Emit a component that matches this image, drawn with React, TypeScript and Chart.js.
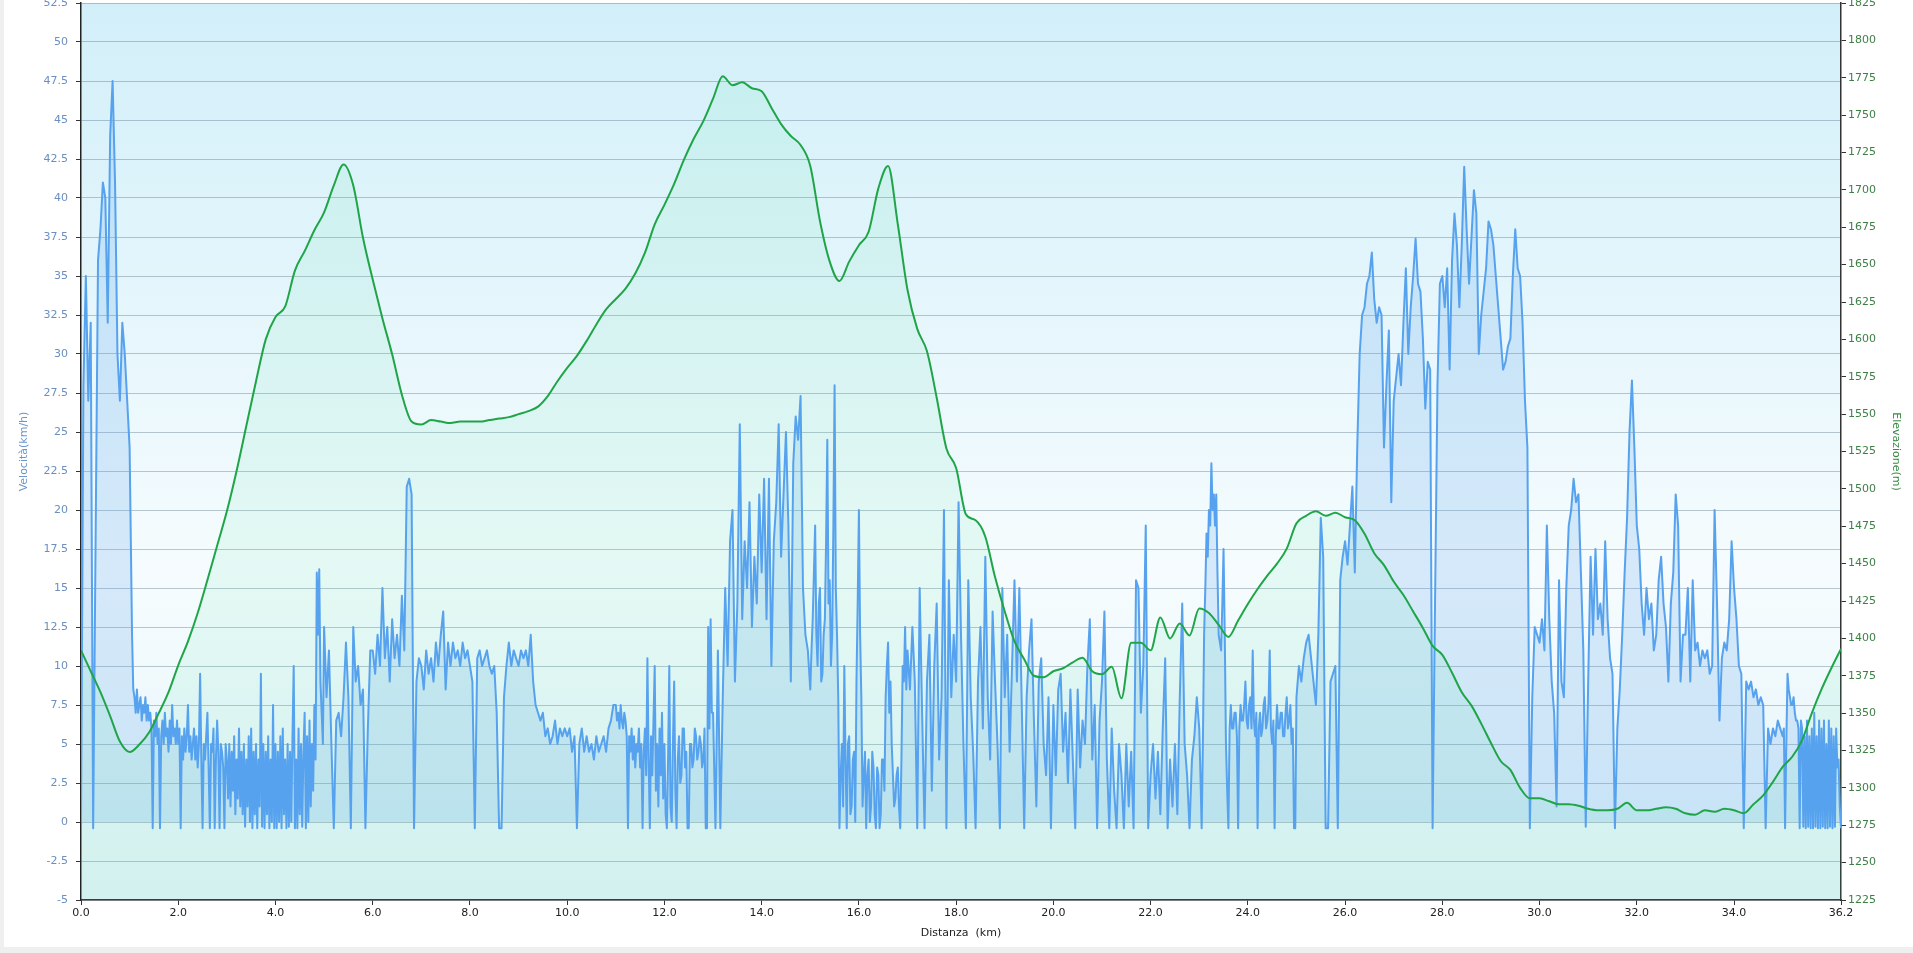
import { useEffect, useRef } from 'react';
import { Chart, registerables } from 'chart.js';

Chart.register(...registerables);

const FONT = 'DejaVu Sans, Verdana, sans-serif';

// Velocità (km/h). Tratti a 50 m (20 valori/km) e tratti più fitti a 25 m (40 valori/km)
const speed0to1 = [
  0, 28, 35, 27, 32, -0.4, 18, 36, 38, 41, 40, 32, 44, 47.5, 41, 30, 27, 32, 30, 27,
];

const speed1to3 = [
  24, 18, 12, 8.5, 8, 7, 8.5, 7, 7.5, 8, 6.5, 7.5, 7, 8, 6.5, 7.5, 6.5, 7, 6, -0.4,
  6.5, 5.5, 7, 5, 6, -0.4, 5.5, 6.5, 5, 7, 5.5, 6, 4.5, 6.5, 5, 7.5, 5.5, 6, 5, 6.5,
  5, 6, -0.4, 5.5, 4, 6, 4.5, 5.5, 7.5, 4.5, 5.5, 4, 5, 6, 4, 5.5, 3.5, 5, 9.5, 4,
  -0.4, 5, 4, 5.5, 7, 3.5, -0.4, 5, 4.5, 6, -0.4, 4, 6.5, 4.5, -0.4, 5, 4.5, 3.5, -0.4, 5,
];

const speed3to5 = [
  4, 1.5, 5, 1, 4.5, 2, 5.5, 0.5, 4, 1.5, 6, 1, 4.5, 0.5, 5, -0.3, 4, 1, 5.5, 0,
  6, -0.4, 4.5, 0.5, 5, -0.4, 4, 1, 9.5, -0.3, 5, -0.4, 4.5, 0.5, 5.5, -0.4, 4, 0, 7.5, -0.4,
  5, -0.4, 4.5, 0, 5.5, -0.4, 6, 0.5, 4, -0.4, 5, -0.3, 4.5, 0, 5.5, 10, -0.4, 4, -0.4, 6,
  0.5, 5, -0.3, 4.5, 7, -0.4, 5.5, 0, 6.5, 1, 5, 2, 7.5, 4, 16, 12, 16.2, 9, 7, 5,
];

const speed5to11 = [
  12.5, 8, 11, 5, -0.4, 6.5, 7, 5.5, 8, 11.5, 8, -0.4, 12.5, 9, 10, 7.5, 8.5, -0.4, 6, 11,
  11, 9.5, 12, 10, 15, 10.5, 12.5, 9, 13, 10.5, 12, 10, 14.5, 11, 21.5, 22, 21, -0.4, 9, 10.5,
  10, 8.5, 11, 9.5, 10.5, 9, 11.5, 10, 12, 13.5, 8.5, 11.5, 10, 11.5, 10.5, 11, 10, 11.5, 10.5, 11,
  10, 9, -0.4, 10.5, 11, 10, 10.5, 11, 10, 9.5, 10, 7, -0.4, -0.4, 8, 10, 11.5, 10, 11, 10.5,
  10, 11, 10.5, 11, 10, 12, 9, 7.5, 7, 6.5, 7, 5.5, 6, 5, 5.5, 6.5, 5, 6, 5.5, 6,
  5.5, 6, 4.5, 5.5, -0.4, 5, 6, 4.5, 5.5, 4.5, 5, 4, 5.5, 4.5, 5, 5.5, 4.5, 6, 6.5, 7.5,
];

const speed11to13 = [
  7.5, 6.5, 7, 6, 7.5, 6.5, 6, 7, 6.5, 5.5, -0.4, 5.5, 4.5, 6, 4, 5.5, 3.5, 5, 4.5, 6,
  3.5, 5, -0.4, 4.5, 6, 3, 10.5, 4, -0.4, 5.5, 3, 6.5, 10, 2, 5, 1, 6, 3, 7, 1.5,
  5, 0.5, -0.4, 4, 10, 1, 0, 5, 9, 2, -0.4, 4, 5.5, 2.5, 3, 6, 6, 3.5, 4.5, -0.4,
  -0.4, 5, 5, 3.5, 4, 6, 5.5, 4, 4.5, 5.5, 5, 3.5, 4, 6, -0.4, -0.4, 12.5, 6, 13, 7,
];

const speed13to15 = [
  7, -0.4, 11, -0.4, 8, 15, 10, 18, 20, 9, 14, 25.5, 13, 18, 15, 20.5, 12.5, 17, 14, 21,
  16, 22, 13, 22, 10, 18, 20.5, 25.5, 17, 21, 25, 19, 9, 23, 26, 24.5, 27.3, 15, 12, 11,
];

const speed15to17 = [
  8.5, 11, 13, 16, 19, 12, 10, 14, 15, 9, 9.5, 12, 13, 18, 24.5, 14, 15.5, 10, 12, 19,
  28, 15, 12, 8, -0.4, 3, 5, 1, 10, 4, -0.4, 5, 5.5, 0.5, 1, 4, 4.5, 0, 9, 14,
  20, 12, 8, 1, 3, 4.5, -0.4, 3, 4, 0, 1, 4.5, 3.5, 0.5, -0.4, 3.5, 3, -0.4, 0.5, 4,
  4, 2, 8, 10, 11.5, 7, 9, 5, 3, 1, 1.5, 3, 3.5, 1, -0.4, 4, 10, 9, 12.5, 8.5,
];

const speed17to23 = [
  11, 8.5, 12.5, 9, -0.4, 15, 7, -0.4, 9, 12, 2, 10, 14, 4, 8, 20, -0.4, 15.5, 8, 12,
  9, 20.5, 12, 5, -0.4, 15.5, 8, 4.5, -0.4, 9, 12.5, 6, 17, 8, 4, 13.5, 9, 5, -0.4, 15,
  8, 12, 4.5, 10, 15.5, 9, 15, 7.5, -0.4, 8, 11, 13, 6.5, 1, 9, 10.5, 5, 3, 8, -0.4,
  7.5, 3, 8.5, 9.5, 4.5, 7, 2.5, 8.5, 4, -0.4, 8.5, 3.5, 6.5, 5, 10, 13, 4, 7.5, -0.4, 6.5,
  9, 13.5, 4, -0.4, 6, 2, -0.4, 5, 3, -0.4, 5, 1, 4.5, -0.4, 15.5, 15, 7, 10, 19, -0.4,
  3, 5, 1.5, 4.5, 0.5, 6, 10.5, -0.4, 4, 1, 5, 0.5, 8, 14, 5, 3, -0.4, 4, 5.5, 8,
];

const speed23to25 = [
  6, 3, -0.4, 5, 12, 15, 18.5, 17, 20, 19, 23, 20, 21, 19, 21, 16, 12, 11.5, 11, 14,
  17.5, 12, 5, 2, -0.4, 6, 7.5, 6, 6, 7, 7, 5.5, -0.4, 6, 7.5, 6.5, 6.5, 7.5, 9, 6.5,
  6, 7.5, 8, 6, 11, 6.5, 5.5, 7, -0.4, 6, 7, 5.5, 6, 7.5, 8, 6, 6.5, 7.5, 11, 6,
  5, 6.5, -0.4, 5.5, 7.5, 6, 6, 7, 7, 5.5, 5.5, 7, 8, 6, 6.5, 7.5, 5, 6, -0.4, -0.4,
];

const speed25to35 = [
  8, 10, 9, 10.5, 11.5, 12, 10.5, 9, 7.5, 12, 19.5, 17, -0.4, -0.4, 9, 9.5, 10, -0.4, 15.5, 17,
  18, 16.5, 19, 21.5, 16, 24, 30, 32.5, 33, 34.5, 35, 36.5, 33.5, 32, 33, 32.5, 24, 28, 31.5, 20.5,
  27, 28.5, 30, 28, 32, 35.5, 30, 33, 35, 37.4, 34.5, 34, 31, 26.5, 29.5, 29, -0.4, 14, 28, 34.5,
  35, 33, 35.5, 29, 36, 39, 37, 33, 37, 42, 38, 34.5, 37.5, 40.5, 39, 30, 32.5, 34, 35.5, 38.5,
  38, 37, 35, 33, 31, 29, 29.5, 30.5, 31, 35, 38, 35.5, 35, 32, 27, 24, -0.4, 8, 12.5, 12,
  11.5, 13, 11, 19, 13, 9, 7, 1, 15.5, 9, 8, 15, 19, 20, 22, 20.5, 21, 16, 11, -0.3,
  9, 17, 12, 17.5, 13, 14, 12, 18, 13, 10.5, 9.5, -0.4, 6, 8.5, 12, 16, 19.5, 25, 28.3, 24,
  19, 17.5, 14, 12, 15, 13, 14, 11, 12, 15.5, 17, 14, 12.5, 9, 14, 16, 21, 19, 9, 12,
  12, 15, 9, 15.5, 11, 11.5, 10, 11, 10.5, 11, 9.5, 10, 20, 14, 6.5, 10.5, 11.5, 11, 13, 18,
  15, 13, 10, 9.5, -0.4, 9, 8.5, 9, 8, 8.5, 7.5, 8, 7.5, -0.4, 6, 5, 6, 5.5, 6.5, 6,
];

const speed35toEnd = [
  5.5, 6, -0.4, 5, 9.5, 8.5, 8, 7.5, 7.5, 8, 7, 6.5, 6.5, 6, -0.4, 6.5, 6, -0.3, 5.5, -0.4,
  6.5, -0.3, 5.5, -0.4, 6, -0.4, 7, -0.3, 5.5, -0.4, 6.5, -0.4, 6, -0.3, 6.5, -0.4, 5, -0.4, 6.5, -0.3,
  6, -0.4, 5.5, -0.3, 6, 3.5, 4, 1, -0.4,
];

const speedSegments = [
  { fromKm: 0, stepKm: 0.05, kmh: speed0to1 },
  { fromKm: 1, stepKm: 0.025, kmh: speed1to3 },
  { fromKm: 3, stepKm: 0.025, kmh: speed3to5 },
  { fromKm: 5, stepKm: 0.05, kmh: speed5to11 },
  { fromKm: 11, stepKm: 0.025, kmh: speed11to13 },
  { fromKm: 13, stepKm: 0.05, kmh: speed13to15 },
  { fromKm: 15, stepKm: 0.025, kmh: speed15to17 },
  { fromKm: 17, stepKm: 0.05, kmh: speed17to23 },
  { fromKm: 23, stepKm: 0.025, kmh: speed23to25 },
  { fromKm: 25, stepKm: 0.05, kmh: speed25to35 },
  { fromKm: 35, stepKm: 0.025, kmh: speed35toEnd },
];

// Elevazione (m), un valore ogni 200 m (10 valori ogni 2 km)
const ELEVATION_STEP_KM = 0.2;
const elevationM = [
  1392, 1378, 1364, 1348, 1331, 1324, 1329, 1337, 1350, 1364,
  1382, 1398, 1417, 1439, 1462, 1485, 1512, 1542, 1572, 1600,
  1615, 1622, 1646, 1659, 1673, 1685, 1703, 1717, 1703, 1668,
  1640, 1614, 1590, 1563, 1545, 1543, 1546, 1545, 1544, 1545,
  1545, 1545, 1546, 1547, 1548, 1550, 1552, 1555, 1562, 1572,
  1581, 1589, 1599, 1610, 1620, 1627, 1634, 1644, 1658, 1677,
  1690, 1704, 1720, 1734, 1746, 1761, 1776, 1770, 1772, 1768,
  1766, 1755, 1744, 1736, 1730, 1716, 1679, 1652, 1639, 1652,
  1663, 1672, 1701, 1716, 1677, 1633, 1607, 1592, 1561, 1527,
  1514, 1483, 1479, 1468, 1441, 1418, 1398, 1386, 1375, 1374,
  1378, 1380, 1384, 1387, 1378, 1376, 1381, 1360, 1397, 1397,
  1392, 1414, 1400, 1410, 1402, 1420, 1417, 1409, 1401, 1412,
  1423, 1433, 1442, 1450, 1460, 1477, 1482, 1485, 1482, 1484,
  1481, 1479, 1470, 1457, 1449, 1438, 1429, 1418, 1407, 1395,
  1389, 1377, 1364, 1355, 1343, 1330, 1318, 1312, 1300, 1293,
  1293, 1291, 1289, 1289, 1288, 1286, 1285, 1285, 1286, 1290,
  1285, 1285, 1286, 1287, 1286, 1283, 1282, 1285, 1284, 1286,
  1285, 1283, 1289, 1295, 1304, 1314, 1321, 1332, 1350, 1366,
  1380, 1393,
];

const distanceTicks = [0, 2, 4, 6, 8, 10, 12, 14, 16, 18, 20, 22, 24, 26, 28, 30, 32, 34, 36.2];

const speedPoints = speedSegments.flatMap((seg) =>
  seg.kmh.map((v, i) => ({ x: Math.round((seg.fromKm + i * seg.stepKm) * 1000) / 1000, y: v }))
);
const elevationPoints = elevationM.map((v, i) => ({ x: Math.round(i * ELEVATION_STEP_KM * 10) / 10, y: v }));

// sfondo sfumato dell'area del grafico
const plotBackground = {
  id: 'plotBackground',
  beforeDraw(chart: Chart) {
    const { ctx, chartArea } = chart;
    if (!chartArea) return;
    const g = ctx.createLinearGradient(0, chartArea.top, 0, chartArea.bottom);
    g.addColorStop(0, '#d2eff9');
    g.addColorStop(0.64, '#f6fcfe');
    g.addColorStop(1, '#e2f3f9');
    ctx.save();
    ctx.fillStyle = g;
    ctx.fillRect(chartArea.left, chartArea.top, chartArea.width, chartArea.height);
    ctx.restore();
  },
};

function ProfileChart() {
  const canvasRef = useRef<HTMLCanvasElement>(null);

  useEffect(() => {
    if (!canvasRef.current) return;
    const tickFont = { family: FONT, size: 11 };

    const chart = new Chart(canvasRef.current, {
      type: 'line',
      data: {
        datasets: [
          {
            label: 'Elevazione',
            data: elevationPoints,
            yAxisID: 'y1',
            borderColor: '#1fa548',
            backgroundColor: 'rgba(60, 220, 140, 0.09)',
            borderWidth: 2,
            pointRadius: 0,
            cubicInterpolationMode: 'monotone',
            fill: 'start',
            order: 0,
          },
          {
            label: 'Velocità',
            data: speedPoints,
            yAxisID: 'y',
            borderColor: '#56a2ee',
            backgroundColor: 'rgba(85, 160, 236, 0.2)',
            borderWidth: 2,
            borderJoinStyle: 'round',
            pointRadius: 0,
            tension: 0,
            fill: 'origin',
            order: 1,
          },
        ],
      },
      options: {
        animation: false,
        responsive: true,
        maintainAspectRatio: false,
        events: [],
        layout: { padding: { top: 9, left: 0, right: 0, bottom: 0 } },
        plugins: {
          legend: { display: false },
          tooltip: { enabled: false },
          filler: { drawTime: 'beforeDatasetsDraw' },
        },
        scales: {
          x: {
            type: 'linear',
            min: 0,
            max: 36.2,
            afterBuildTicks: (scale) => {
              scale.ticks = distanceTicks.map((value) => ({ value }));
            },
            afterFit: (scale) => {
              scale.height = 46;
            },
            ticks: {
              color: '#222',
              font: tickFont,
              padding: 2,
              maxRotation: 0,
              autoSkip: false,
              callback: (v) => Number(v).toFixed(1),
            },
            grid: { drawOnChartArea: false, drawTicks: true, tickLength: 5, color: '#333', tickColor: '#333' },
            border: { display: true, color: '#333', width: 1.5 },
            title: {
              display: true,
              text: 'Distanza  (km)',
              color: '#222',
              font: tickFont,
              padding: { top: 0, bottom: 6 },
            },
          },
          y: {
            type: 'linear',
            position: 'left',
            min: -5,
            max: 52.5,
            afterFit: (scale) => {
              scale.width = 77;
              scale.paddingTop = 0;
              scale.paddingBottom = 0;
            },
            ticks: {
              stepSize: 2.5,
              color: '#6b8fbf',
              font: tickFont,
              padding: 8,
              callback: (v) => String(v),
            },
            grid: { color: 'rgba(70, 100, 120, 0.35)', tickColor: '#333', tickLength: 5 },
            border: { display: true, color: '#222', width: 1.5 },
            title: {
              display: true,
              text: 'Velocità(km/h)',
              color: '#6a96cc',
              font: tickFont,
              padding: { top: 14, bottom: 0 },
            },
          },
          y1: {
            type: 'linear',
            position: 'right',
            min: 1225,
            max: 1825,
            afterFit: (scale) => {
              scale.width = 72;
              scale.paddingTop = 0;
              scale.paddingBottom = 0;
            },
            ticks: {
              stepSize: 25,
              color: '#3e7f46',
              font: tickFont,
              padding: 2,
              callback: (v) => String(v),
            },
            grid: { drawOnChartArea: false, tickColor: '#333', tickLength: 5 },
            border: { display: true, color: '#333', width: 1.5 },
            title: {
              display: true,
              text: 'Elevazione(m)',
              color: '#3a8a44',
              font: tickFont,
              padding: { top: 11, bottom: 0 },
            },
          },
        },
      },
      plugins: [plotBackground],
    });

    return () => {
      chart.destroy();
    };
  }, []);

  return (
    <div style={{ position: 'absolute', left: 0, top: -6, width: 1909, height: 952 }}>
      <canvas ref={canvasRef}></canvas>
    </div>
  );
}

export default function App() {
  return (
    <div style={{ position: 'fixed', left: 0, top: 0, width: 1913, height: 953, background: '#efefef', overflow: 'hidden' }}>
      <div style={{ position: 'absolute', left: 4, top: 0, width: 1909, height: 947, background: '#fff', overflow: 'hidden' }}>
        <ProfileChart />
      </div>
    </div>
  );
}
